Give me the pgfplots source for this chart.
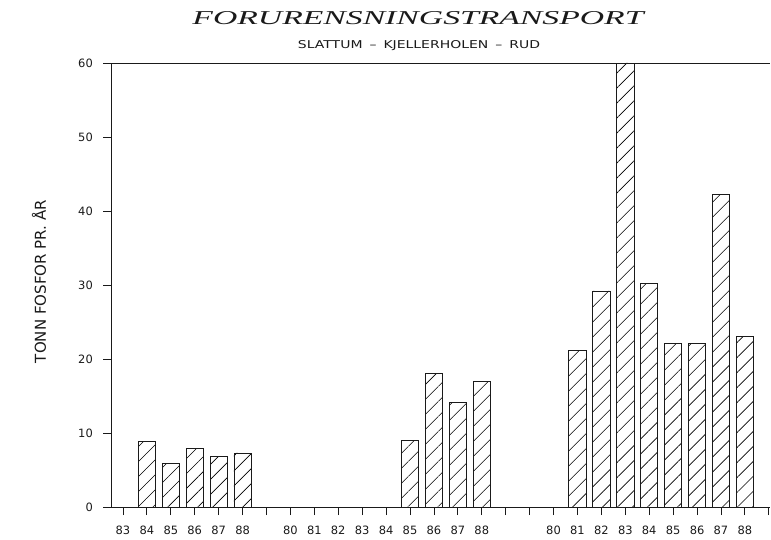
\documentclass[border=0pt]{standalone}
\usepackage{fontspec}
\setmainfont{Liberation Sans}
\newfontfamily\titlefont{Liberation Serif}
\newfontfamily\plotfont[Ligatures=TeX]{DejaVu Sans}
\usepackage{pgfplots}
\pgfplotsset{compat=1.18}
\usetikzlibrary{patterns.meta}
\definecolor{ink}{HTML}{1A1A1A}
\begin{document}
\begin{tikzpicture}
\useasboundingbox (-111bp,-33bp) rectangle (660bp,507bp);
\begin{axis}[
  at={(0,0)}, anchor=south west,
  scale only axis, width=659bp, height=444bp,
  xmin=-0.5, xmax=27.05, ymin=0, ymax=60,
  axis lines*=left,
  axis line style={line width=0.8bp, draw=ink},
  tick style={line width=0.8bp, draw=ink},
  tick align=outside, major tick length=8bp,
  xtick={0,...,27},
  xticklabels={83,84,85,86,87,88,,80,81,82,83,84,85,86,87,88,,,80,81,82,83,84,85,86,87,88,},
  ytick={0,10,...,60},
  /pgf/number format/assume math mode=true,
  xticklabel style={font=\plotfont\fontsize{11.5}{13}\selectfont, text=ink, anchor=north, inner sep=0pt, yshift=-10.5bp},
  yticklabel style={font=\plotfont\fontsize{11.5}{13}\selectfont, text=ink, anchor=east, inner sep=0pt, xshift=-10bp},
  clip=false]
  % Slattum 83-88, Kjellerholen 80-88, Rud 80-88 (tonn fosfor pr. aar)
  \addplot[ybar, bar width=0.72, bar shift=0pt, draw=ink, line width=0.8bp,
    pattern={Lines[angle=45,distance=10.6bp,line width=0.6bp]}]
    coordinates {(1,8.9) (2,5.9) (3,7.9) (4,6.8) (5,7.3)
                 (12,9.0) (13,18.1) (14,14.1) (15,17.0)
                 (19,21.1) (20,29.2) (21,60) (22,30.2) (23,22.1) (24,22.1) (25,42.2) (26,23.1)};
  \draw[line width=0.8bp, draw=ink] (rel axis cs:0,1) -- (rel axis cs:1,1);
\end{axis}
\node[anchor=south, inner sep=0pt, text=ink] at (307bp,482bp)
  {\resizebox{451bp}{13bp}{\titlefont\itshape FORURENSNINGSTRANSPORT}};
\node[anchor=south, inner sep=0pt, text=ink] at (308bp,456.3bp)
  {\resizebox{242bp}{8bp}{\plotfont SLATTUM\enspace\textendash\enspace KJELLERHOLEN\enspace\textendash\enspace RUD}};
\node[rotate=90, inner sep=0pt, text=ink] at (-72bp,225.5bp)
  {\resizebox{163bp}{!}{\plotfont TONN FOSFOR PR. ÅR}};
\end{tikzpicture}
\end{document}
